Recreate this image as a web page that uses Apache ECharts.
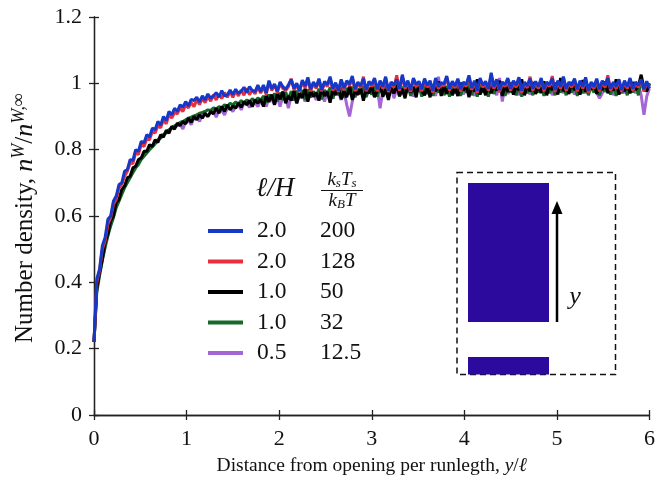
<!DOCTYPE html>
<html>
<head>
<meta charset="utf-8">
<script src="https://cdn.jsdelivr.net/npm/echarts@6/dist/echarts.min.js"></script>
<style>
  html, body { margin: 0; padding: 0; background: #fff; }
  #chart { width: 658px; height: 485px; }
</style>
</head>
<body>
<div id="chart"></div>
<script>
// Sampling positions y/ℓ (every 0.03 from 0 to 6)
const xStep = 0.03;
const xs = Array.from({ length: 201 }, (_, i) => +(i * xStep).toFixed(2));

// Legend columns
const ellOverH = ['2.0', '2.0', '1.0', '1.0', '0.5'];
const kRatio = ['200', '128', '50', '32', '12.5'];
const colors = ['#1638c8', '#e8303c', '#000000', '#17692a', '#a466d4'];

// Number density profiles n^W / n^{W,∞}, ten samples per row
const nBlue = [
  0.22, 0.41, 0.44, 0.51, 0.535, 0.59, 0.60, 0.645, 0.66, 0.695,
  0.70, 0.735, 0.74, 0.77, 0.768, 0.80, 0.795, 0.825, 0.82, 0.845,
  0.838, 0.865, 0.86, 0.885, 0.874, 0.90, 0.888, 0.915, 0.905, 0.925,
  0.915, 0.935, 0.928, 0.945, 0.932, 0.952, 0.948, 0.958, 0.944, 0.962,
  0.95, 0.968, 0.955, 0.962, 0.972, 0.958, 0.978, 0.962, 0.965, 0.98,
  0.966, 0.982, 0.97, 0.976, 0.988, 0.972, 0.99, 0.978, 0.975, 0.995,
  0.975, 0.995, 0.972, 1.008, 0.984, 0.998, 0.976, 1.004, 0.99, 0.982,
  0.996, 1.012, 0.985, 1.0, 0.978, 1.01, 0.992, 1.018, 0.982, 1.004,
  0.99, 1.014, 0.98, 1.006, 0.996, 1.02, 0.984, 1.002, 0.978, 1.012,
  0.986, 1.008, 0.998, 1.022, 0.982, 1.004, 0.992, 1.014, 0.98, 1.006,
  0.996, 1.016, 0.982, 1.008, 0.99, 1.02, 0.978, 1.004, 0.994, 1.012,
  0.984, 1.026, 0.99, 1.008, 0.98, 1.016, 0.996, 1.006, 0.982, 1.014,
  0.994, 1.008, 0.978, 1.016, 0.99, 1.002, 0.998, 1.022, 0.984, 1.006,
  0.992, 1.014, 0.982, 1.004, 0.996, 1.024, 0.986, 1.008, 0.978, 1.016,
  0.994, 1.006, 0.984, 1.032, 0.99, 1.012, 0.98, 1.004, 0.996, 1.016,
  0.984, 1.008, 0.994, 1.018, 0.978, 1.004, 0.992, 1.014, 0.984, 1.006,
  0.99, 1.016, 0.982, 1.004, 0.996, 1.014, 0.98, 1.008, 0.99, 1.02,
  0.984, 1.004, 0.994, 1.014, 0.982, 1.008, 0.99, 1.018, 0.978, 1.004,
  0.99, 1.014, 0.982, 1.008, 0.994, 1.016, 0.984, 1.004, 0.99, 1.012,
  0.98, 1.008, 0.99, 1.016, 0.984, 1.004, 0.994, 1.012, 0.982, 1.006,
  0.985
];
const nRed = [
  0.22, 0.40, 0.435, 0.50, 0.525, 0.575, 0.595, 0.635, 0.65, 0.685,
  0.695, 0.72, 0.735, 0.76, 0.758, 0.79, 0.786, 0.815, 0.81, 0.832,
  0.83, 0.855, 0.85, 0.872, 0.866, 0.89, 0.878, 0.905, 0.895, 0.912,
  0.908, 0.925, 0.915, 0.935, 0.926, 0.942, 0.93, 0.95, 0.936, 0.955,
  0.942, 0.96, 0.946, 0.965, 0.95, 0.968, 0.954, 0.972, 0.958, 0.976,
  0.958, 0.976, 0.962, 0.98, 0.964, 0.985, 0.966, 0.98, 0.968, 0.99,
  0.97, 0.99, 0.966, 1.004, 0.978, 0.996, 0.972, 1.0, 0.984, 0.978,
  0.99, 1.014, 0.98, 0.996, 0.974, 1.006, 0.986, 1.012, 0.976, 1.0,
  0.984, 1.01, 0.976, 1.0, 0.99, 1.016, 0.978, 0.998, 0.974, 1.008,
  0.98, 1.004, 0.992, 1.018, 0.976, 1.0, 0.986, 1.02, 0.976, 1.002,
  0.99, 1.012, 0.976, 1.004, 0.984, 1.016, 0.974, 1.0, 0.988, 1.024,
  0.978, 1.02, 0.984, 1.004, 0.974, 1.012, 0.99, 1.002, 0.976, 1.01,
  0.988, 1.004, 0.972, 1.012, 0.984, 0.998, 0.992, 1.018, 0.978, 1.002,
  0.986, 1.01, 0.976, 1.0, 0.99, 1.018, 0.98, 1.004, 0.972, 1.012,
  0.988, 1.002, 0.978, 1.024, 0.984, 1.008, 0.974, 1.0, 0.99, 1.012,
  0.978, 1.004, 0.988, 1.014, 0.972, 1.0, 0.986, 1.02, 0.978, 1.002,
  0.984, 1.012, 0.976, 1.0, 0.99, 1.022, 0.974, 1.004, 0.984, 1.016,
  0.978, 1.0, 0.988, 1.01, 0.976, 1.004, 0.984, 1.014, 0.972, 1.0,
  0.984, 1.01, 0.976, 1.004, 0.988, 1.024, 0.978, 1.0, 0.984, 1.008,
  0.974, 1.004, 0.984, 1.012, 0.978, 1.0, 0.988, 1.008, 0.976, 1.002,
  0.99
];
const nBlack = [
  0.22, 0.38, 0.43, 0.47, 0.52, 0.545, 0.585, 0.60, 0.64, 0.65,
  0.68, 0.69, 0.715, 0.72, 0.745, 0.75, 0.77, 0.775, 0.795, 0.795,
  0.815, 0.81, 0.83, 0.822, 0.845, 0.838, 0.858, 0.85, 0.87, 0.862,
  0.88, 0.872, 0.885, 0.878, 0.895, 0.882, 0.90, 0.89, 0.905, 0.895,
  0.91, 0.90, 0.915, 0.908, 0.925, 0.91, 0.93, 0.915, 0.935, 0.92,
  0.932, 0.925, 0.94, 0.928, 0.945, 0.935, 0.948, 0.93, 0.95, 0.94,
  0.952, 0.93, 0.962, 0.944, 0.966, 0.936, 0.968, 0.952, 0.975, 0.94,
  0.962, 0.948, 0.978, 0.94, 0.97, 0.956, 0.984, 0.945, 0.978, 0.96,
  0.972, 0.948, 0.985, 0.962, 0.974, 0.942, 0.98, 0.965, 0.99, 0.952,
  0.976, 0.958, 0.992, 0.95, 0.978, 0.966, 0.986, 0.948, 0.982, 0.97,
  0.992, 0.958, 0.978, 0.996, 0.96, 0.982, 0.95, 0.988, 0.97, 0.994,
  0.962, 0.984, 0.955, 0.996, 0.972, 0.99, 0.958, 1.002, 0.978, 0.964,
  0.99, 0.958, 0.996, 0.976, 1.006, 0.962, 0.99, 0.968, 1.0, 0.964,
  0.986, 0.962, 1.002, 0.978, 0.994, 0.958, 0.992, 0.976, 1.012, 0.966,
  0.99, 0.964, 1.0, 0.97, 0.994, 0.978, 1.008, 0.962, 0.992, 0.974,
  1.002, 0.966, 0.99, 0.98, 1.012, 0.964, 0.994, 0.976, 1.004, 0.968,
  0.99, 0.972, 1.006, 0.964, 0.996, 0.98, 1.002, 0.966, 1.016, 0.976,
  0.994, 0.968, 1.004, 0.98, 0.99, 0.966, 1.01, 0.974, 0.996, 0.982,
  1.0, 0.968, 0.992, 0.98, 1.006, 0.97, 0.996, 0.978, 1.012, 0.966,
  0.994, 0.976, 1.0, 0.97, 1.004, 0.98, 0.992, 1.026, 0.986, 0.976,
  1.0
];
const nGreen = [
  0.22, 0.37, 0.42, 0.465, 0.505, 0.54, 0.57, 0.595, 0.625, 0.645,
  0.665, 0.685, 0.70, 0.715, 0.73, 0.745, 0.755, 0.77, 0.78, 0.79,
  0.80, 0.808, 0.818, 0.828, 0.835, 0.845, 0.85, 0.86, 0.865, 0.872,
  0.875, 0.882, 0.885, 0.89, 0.895, 0.898, 0.902, 0.905, 0.91, 0.912,
  0.915, 0.92, 0.918, 0.926, 0.922, 0.93, 0.926, 0.935, 0.93, 0.94,
  0.935, 0.944, 0.938, 0.948, 0.94, 0.95, 0.944, 0.954, 0.946, 0.956,
  0.948, 0.962, 0.942, 0.966, 0.95, 0.97, 0.946, 0.972, 0.95, 0.974,
  0.952, 0.976, 0.948, 0.978, 0.956, 0.98, 0.95, 0.982, 0.958, 0.976,
  0.96, 0.984, 0.952, 0.98, 0.962, 0.988, 0.954, 0.984, 0.964, 0.99,
  0.956, 0.986, 0.966, 0.99, 0.958, 0.984, 0.968, 0.992, 0.96, 0.986,
  0.966, 0.992, 0.96, 0.988, 0.968, 0.996, 0.96, 0.988, 0.97, 0.998,
  0.96, 0.99, 0.968, 1.0, 0.962, 0.99, 0.97, 0.994, 0.96, 0.992,
  0.968, 0.996, 0.962, 0.99, 0.972, 1.002, 0.964, 0.992, 0.96, 0.996,
  0.97, 0.998, 0.962, 0.992, 0.972, 1.004, 0.964, 0.994, 0.96, 0.998,
  0.972, 0.992, 0.96, 1.002, 0.968, 0.994, 0.974, 1.004, 0.962, 0.994,
  0.972, 0.998, 0.964, 0.992, 0.96, 1.002, 0.97, 0.994, 0.964, 1.004,
  0.972, 0.994, 0.962, 0.998, 0.97, 0.992, 0.964, 1.006, 0.972, 0.996,
  0.964, 1.0, 0.972, 0.994, 0.962, 0.998, 0.97, 1.004, 0.964, 0.994,
  0.972, 0.998, 0.964, 0.994, 0.974, 1.004, 0.966, 0.996, 0.962, 1.0,
  0.97, 0.994, 0.964, 1.0, 0.972, 0.996, 0.964, 1.014, 0.976, 0.994,
  0.985
];
const nPurple = [
  0.22, 0.38, 0.425, 0.47, 0.51, 0.545, 0.575, 0.60, 0.63, 0.65,
  0.67, 0.69, 0.705, 0.72, 0.735, 0.75, 0.76, 0.775, 0.785, 0.795,
  0.805, 0.812, 0.822, 0.83, 0.84, 0.846, 0.852, 0.86, 0.866, 0.87,
  0.872, 0.878, 0.862, 0.885, 0.888, 0.875, 0.896, 0.898, 0.885, 0.905,
  0.908, 0.90, 0.912, 0.915, 0.898, 0.92, 0.918, 0.905, 0.925, 0.926,
  0.915, 0.932, 0.935, 0.92, 0.94, 0.938, 0.928, 0.945, 0.942, 0.93,
  0.948, 0.95, 0.93, 0.956, 0.952, 0.935, 0.96, 0.93, 0.962, 0.958,
  0.925, 0.964, 0.96, 0.94, 0.966, 0.97, 0.945, 0.97, 0.962, 0.972,
  0.95, 0.974, 0.968, 0.945, 0.978, 0.97, 0.955, 0.98, 0.974, 0.95,
  0.978, 0.935, 0.90, 0.945, 0.98, 0.966, 0.984, 0.975, 0.958, 0.985,
  0.978, 0.96, 0.986, 0.925, 0.978, 0.99, 0.965, 0.99, 0.955, 0.984,
  0.99, 0.966, 0.986, 0.972, 0.994, 0.96, 0.99, 0.975, 0.996, 0.965,
  0.99, 0.972, 0.996, 0.962, 1.02, 0.97, 0.994, 0.976, 0.998, 0.964,
  0.99, 0.974, 0.996, 0.966, 0.99, 0.976, 1.0, 0.962, 0.994, 0.978,
  0.994, 0.97, 0.99, 0.972, 0.998, 0.964, 1.016, 0.945, 0.994, 0.968,
  0.996, 0.976, 1.0, 0.964, 0.992, 0.978, 1.002, 0.966, 0.994, 0.976,
  0.998, 0.97, 0.994, 0.98, 1.002, 0.964, 0.992, 0.978, 1.0, 0.97,
  0.994, 0.976, 1.002, 0.966, 0.992, 0.98, 0.998, 0.97, 0.994, 0.978,
  1.0, 0.972, 0.955, 0.97, 0.994, 0.98, 1.0, 0.964, 0.994, 0.978,
  0.994, 0.97, 1.0, 0.975, 0.994, 0.97, 0.998, 0.964, 0.905, 0.96,
  0.985
];

const profiles = [nBlue, nRed, nBlack, nGreen, nPurple];
const seriesNames = ellOverH.map((h, i) => h + ' ' + kRatio[i]);

const serif = '"Liberation Serif", "DejaVu Serif", serif';
const axisColor = '#222';

// Draw order: purple at the bottom, blue on top
const drawOrder = [4, 3, 2, 1, 0];
const series = drawOrder.map(i => ({
  name: seriesNames[i],
  type: 'line',
  showSymbol: false,
  symbol: 'none',
  data: xs.map((x, j) => [x, profiles[i][j]]),
  lineStyle: { width: 3, color: colors[i] },
  itemStyle: { color: colors[i] },
  z: 2,
  animation: false
}));

const chart = echarts.init(document.getElementById('chart'), null, { renderer: 'canvas' });

const frameAxis = {
  axisLine: { show: true, lineStyle: { color: axisColor, width: 1.3 } },
  axisTick: { show: true, inside: true, length: 5, lineStyle: { color: axisColor, width: 1.3 } },
  splitLine: { show: false }
};

chart.setOption({
  animation: false,
  backgroundColor: '#fff',
  grid: { left: 94, right: 7, top: 17, bottom: 70, containLabel: false },
  xAxis: [
    Object.assign({
      type: 'value', min: 0, max: 6, interval: 1, position: 'bottom',
      axisLabel: { fontFamily: serif, fontSize: 22, color: '#111', margin: 13 },
      name: '{t|Distance from opening per runlegth, }{i|y}{t|/}{i|ℓ}',
      nameLocation: 'middle', nameGap: 41,
      nameTextStyle: {
        rich: {
          t: { fontFamily: serif, fontSize: 19.5, color: '#111' },
          i: { fontFamily: serif, fontSize: 19.5, fontStyle: 'italic', color: '#111' }
        }
      }
    }, frameAxis),
    Object.assign({
      type: 'value', min: 0, max: 6, interval: 1, position: 'top',
      axisLabel: { show: false }
    }, frameAxis)
  ],
  yAxis: [
    Object.assign({
      type: 'value', min: 0, max: 1.2, interval: 0.2, position: 'left',
      axisLabel: { fontFamily: serif, fontSize: 22, color: '#111', margin: 12 }
    }, frameAxis),
    Object.assign({
      type: 'value', min: 0, max: 1.2, interval: 0.2, position: 'right',
      axisLabel: { show: false }
    }, frameAxis)
  ],
  legend: {
    orient: 'vertical',
    left: 208,
    top: 219,
    padding: 0,
    data: seriesNames,
    icon: 'rect',
    itemWidth: 35,
    itemHeight: 4,
    itemGap: 6.5,
    selectedMode: false,
    formatter: name => {
      const parts = name.split(' ');
      return '{p|}{a|' + parts[0] + '}{b|' + parts[1] + '}';
    },
    textStyle: {
      rich: {
        p: { width: 9 },
        a: { fontFamily: serif, fontSize: 23.5, color: '#111', width: 63, lineHeight: 20 },
        b: { fontFamily: serif, fontSize: 23.5, color: '#111', lineHeight: 20 }
      }
    }
  },
  graphic: [
    // Y axis title
    {
      type: 'text', x: 24, y: 218, rotation: Math.PI / 2, z: 10,
      style: {
        text: '{t|Number density, }{i|n}{s|W}{t|/}{i|n}{s|W,∞}',
        align: 'center', verticalAlign: 'middle',
        rich: {
          t: { fontFamily: serif, fontSize: 25, fill: '#111', lineHeight: 28, verticalAlign: 'bottom' },
          i: { fontFamily: serif, fontSize: 26, fontStyle: 'italic', fill: '#111', lineHeight: 28, verticalAlign: 'bottom' },
          s: { fontFamily: serif, fontSize: 18, fontStyle: 'italic', fill: '#111', lineHeight: 28, verticalAlign: 'top' }
        }
      }
    },
    // Legend column headers
    {
      type: 'text', x: 256, y: 189, z: 10,
      style: {
        text: 'ℓ/H', fontFamily: serif, fontSize: 27, fontStyle: 'italic',
        fill: '#111', align: 'left', verticalAlign: 'middle'
      }
    },
    {
      type: 'text', x: 342, y: 180, z: 10,
      style: {
        text: '{i|k}{s|s}{i|T}{s|s}',
        align: 'center', verticalAlign: 'middle',
        rich: {
          i: { fontFamily: serif, fontSize: 19, fontStyle: 'italic', fill: '#111', lineHeight: 20, verticalAlign: 'middle' },
          s: { fontFamily: serif, fontSize: 13, fontStyle: 'italic', fill: '#111', lineHeight: 20, verticalAlign: 'bottom' }
        }
      }
    },
    {
      type: 'line', z: 10,
      shape: { x1: 321, y1: 190.5, x2: 363, y2: 190.5 },
      style: { stroke: '#111', lineWidth: 1 }
    },
    {
      type: 'text', x: 342, y: 201, z: 10,
      style: {
        text: '{i|k}{s|B}{i|T}',
        align: 'center', verticalAlign: 'middle',
        rich: {
          i: { fontFamily: serif, fontSize: 19, fontStyle: 'italic', fill: '#111', lineHeight: 20, verticalAlign: 'middle' },
          s: { fontFamily: serif, fontSize: 13, fontStyle: 'italic', fill: '#111', lineHeight: 20, verticalAlign: 'bottom' }
        }
      }
    },
    // Channel sketch: dashed frame, wall blocks, arrow and label
    {
      type: 'rect', z: 10,
      shape: { x: 457, y: 172.5, width: 158.5, height: 202 },
      style: { fill: '#fff', stroke: '#111', lineWidth: 1.5, lineDash: [6, 4] }
    },
    {
      type: 'rect', z: 11,
      shape: { x: 468, y: 183, width: 81, height: 139 },
      style: { fill: '#2d0a9e' }
    },
    {
      type: 'rect', z: 11,
      shape: { x: 468, y: 357, width: 81, height: 17.5 },
      style: { fill: '#2d0a9e' }
    },
    {
      type: 'line', z: 11,
      shape: { x1: 557, y1: 322, x2: 557, y2: 210 },
      style: { stroke: '#000', lineWidth: 2.5 }
    },
    {
      type: 'polygon', z: 11,
      shape: { points: [[557, 201], [551.5, 214], [562.5, 214]] },
      style: { fill: '#000' }
    },
    {
      type: 'text', x: 575, y: 297, z: 11,
      style: {
        text: 'y', fontFamily: serif, fontSize: 26, fontStyle: 'italic',
        fill: '#111', align: 'center', verticalAlign: 'middle'
      }
    }
  ],
  series: series
});
</script>
</body>
</html>
